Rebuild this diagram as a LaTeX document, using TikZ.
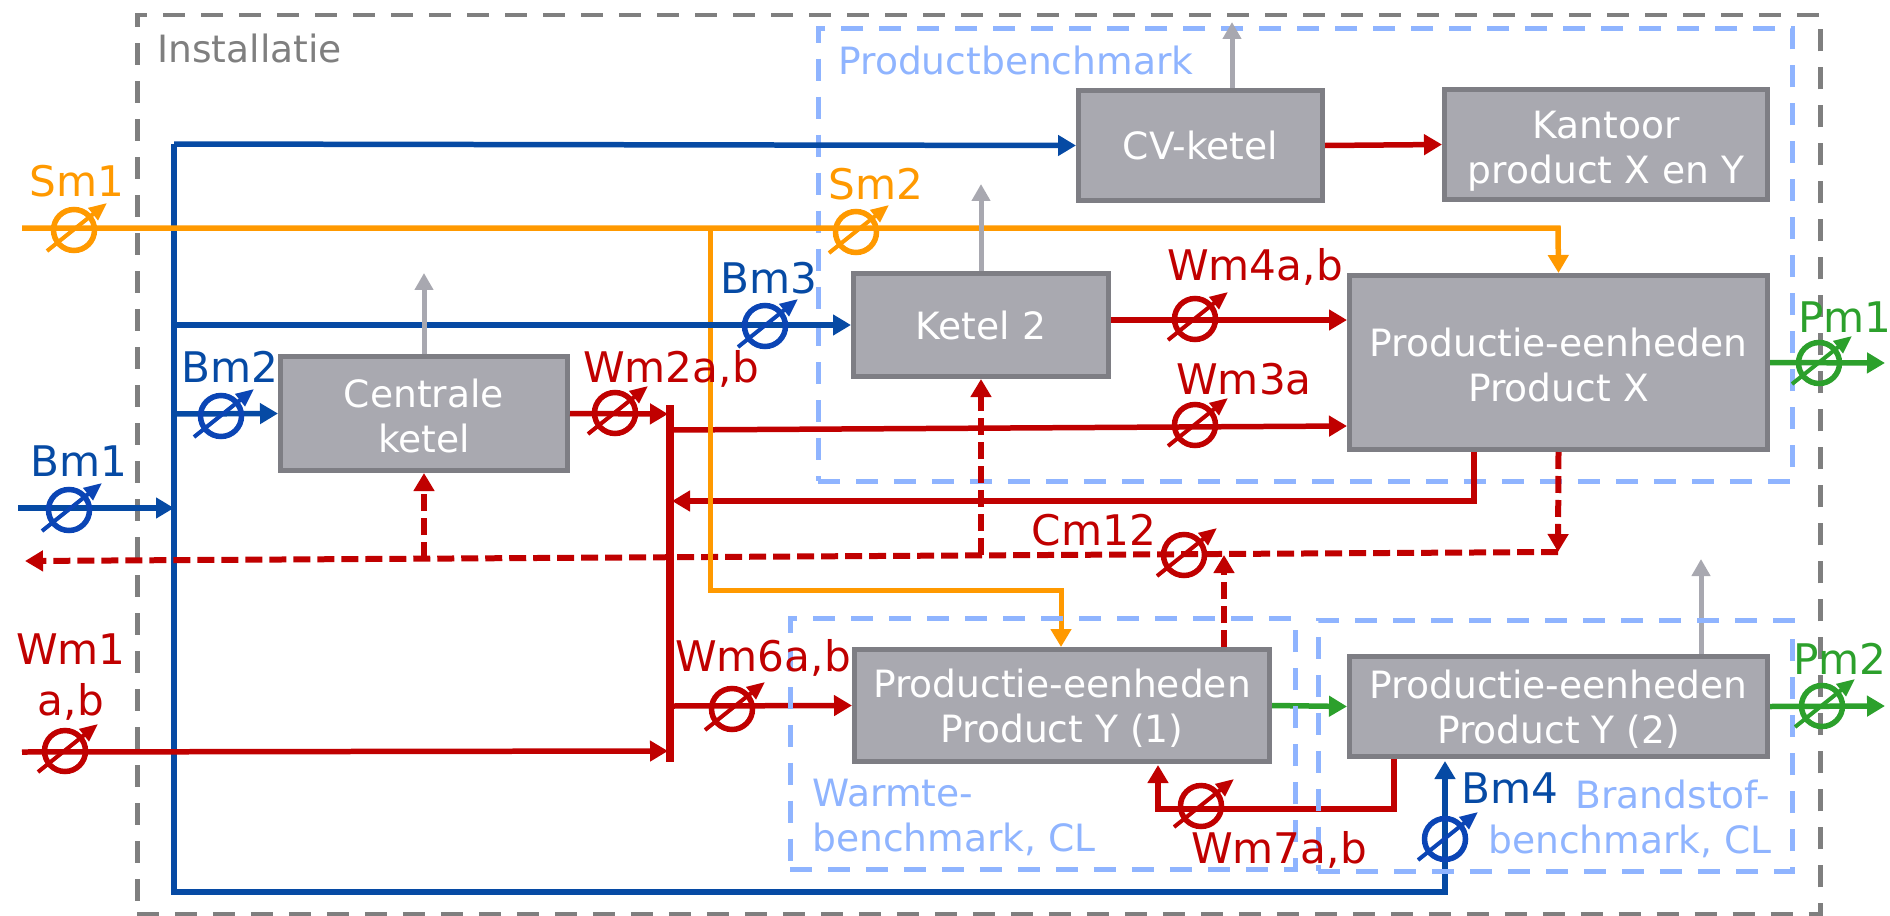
\documentclass[tikz,border=0pt]{standalone}
\usepackage{fontspec}
\setmainfont{DejaVu Sans}
\usepackage{xcolor}
\usepackage{tikz}
\usetikzlibrary{arrows.meta, calc}

\definecolor{blueline}{HTML}{064AA4}
\definecolor{bluemeter}{HTML}{0B45B5}
\definecolor{redline}{HTML}{C00000}
\definecolor{orangeline}{HTML}{FF9900}
\definecolor{greenline}{HTML}{2CA02C}
\definecolor{greyline}{HTML}{A8A8B0}
\definecolor{boxfill}{HTML}{A9A9B0}
\definecolor{boxedge}{HTML}{7E7E84}
\definecolor{regionblue}{HTML}{8FB4FF}
\definecolor{regiongrey}{HTML}{7F7F7F}
\newcommand{\topgap}[1]{\rule{0pt}{#1pt}}

\begin{document}
\begin{tikzpicture}[
    x=0.02cm, y=-0.02cm,
    tip/.style={-{Triangle[length=0.36cm, width=0.4cm]}},
    flow/.style={line width=0.11cm},
    dashflow/.style={line width=0.12cm, dash pattern=on 0.34cm off 0.14cm},
    stack/.style={line width=0.1cm, -{Triangle[length=0.34cm, width=0.36cm]}, draw=greyline},
    unit/.style n args={2}{rectangle, draw=boxedge, fill=boxfill, line width=0.1cm, inner sep=0pt,
        minimum width=#1*0.02cm, minimum height=#2*0.02cm, text=white, align=center,
        font=\fontsize{21.4}{25.6}\selectfont},
    region/.style n args={2}{rectangle, line width=0.1cm, inner sep=0pt,
        minimum width=#1*0.02cm, minimum height=#2*0.02cm, dash pattern=on 0.44cm off 0.32cm},
    meter/.style={circle, line width=0.11cm, inner sep=0pt, minimum size=0.82cm},
    tag/.style={anchor=base, inner sep=0pt, font=\fontsize{24}{26}\selectfont},
    areatag/.style={anchor=base west, inner sep=0pt, font=\fontsize{21.4}{25.6}\selectfont}
]
\useasboundingbox (0,0) rectangle (1890,916);

% outer regions
\node[region={1683}{899}, draw=regiongrey] (installatie) at (978.5,464.5) {};
\node[region={974}{453}, draw=regionblue] (productbm) at (1305,254.5) {};

% units
\node[unit={244}{110}] (cvketel) at (1200.5,145.5) {CV-ketel};
\node[unit={323}{110}] (kantoor) at (1606,144.5) {\topgap{23}Kantoor\\product X en Y};
\node[unit={255}{103}] (ketel2) at (981,325) {Ketel 2};
\node[unit={418}{174}] (prodx) at (1558.5,362.5) {\topgap{19}Productie-eenheden\\Product X};
\node[unit={287}{114}] (centrale) at (424,413.5) {\topgap{19}Centrale\\ketel};
\node[unit={415}{112}] (prody1) at (1062,705.5) {\topgap{19}Productie-eenheden\\Product Y (1)};
\node[unit={418}{100}] (prody2) at (1558.5,706.5) {\topgap{19}Productie-eenheden\\Product Y (2)};

% junctions
\coordinate (blueTop) at (174,144);
\coordinate (blueMid) at (174,325);
\coordinate (blueLow) at (174,414);
\coordinate (blueBm) at (174,508);
\coordinate (blueBot) at (174,892);
\coordinate (blueEnd) at (1445,892);
\coordinate (blueIn) at (18,508);
\coordinate (busTop) at (670,405);
\coordinate (busBot) at (670,762);
\coordinate (sIn) at (22,228);
\coordinate (sBranch) at (710,228);
\coordinate (wIn) at (22,752);
\coordinate (dashEnd) at (1558,552);
\coordinate (dashOut) at (25,561);
\coordinate (dashK2) at (981,555);
\coordinate (dashC) at (424,559);
\coordinate (dashY) at (1224,555);

% blue
\draw[flow, draw=blueline, tip] (blueTop) -- (blueBot) -- (blueEnd) -- (1445,761);

% red
\draw[flow, draw=redline, tip] (wIn) -- (668,751);
\draw[line width=0.15cm, draw=redline] (busTop) -- (busBot);
\draw[flow, draw=redline, tip] (cvketel.east) -- (kantoor.west);
\draw[flow, draw=redline, tip] (ketel2.east |- 0,320) -- (prodx.west |- 0,320);
\draw[flow, draw=redline, tip] (centrale.east) -- (668,414);
\draw[flow, draw=redline, tip] (672,430) -- (prodx.west |- 0,426);
\draw[flow, draw=redline, tip] (1474,452) -- (1474,501) -- (672,501);
\draw[flow, draw=redline, tip] (672,706) -- (prody1.west);
\draw[flow, draw=redline, tip] (1394,759) -- (1394,809) -- (1158,809) -- (1158,765);

% dashed red
\draw[dashflow, draw=redline, tip] (dashEnd) -- (dashOut);
\draw[dashflow, draw=redline, tip] (prodx.south) -- (dashEnd);
\draw[dashflow, draw=redline, tip] (dashK2) -- (ketel2.south);
\draw[dashflow, draw=redline, tip] (dashC) -- (centrale.south);
\draw[dashflow, draw=redline, tip] (1224,647) -- (dashY);

% orange, blue on top of it
\draw[flow, draw=orangeline, tip] (sIn) -- (1558,228) -- (prodx.north);
\draw[line width=0.1cm, draw=orangeline, tip] (sBranch) -- (710,590) -- (1061,590) -- (1061,647);
\draw[flow, draw=blueline, tip] (blueTop) -- (cvketel.west);
\draw[flow, draw=blueline, tip] (blueMid) -- (ketel2.west);
\draw[flow, draw=blueline, tip] (blueLow) -- (centrale.west);
\draw[flow, draw=blueline, tip] (blueIn) -- (blueBm);

% green
\draw[flow, draw=greenline, tip] (prodx.east) -- (1885,363);
\draw[flow, draw=greenline, tip] (prody1.east) -- (prody2.west);
\draw[flow, draw=greenline, tip] (prody2.east) -- (1885,706);

% stacks
\draw[stack] (centrale.north) -- (424,273);
\draw[stack] (ketel2.north) -- (981,184);
\draw[stack] (1232,88) -- (1232,22);
\draw[stack] (1701,654) -- (1701,559);

% benchmark regions over the lines
\node[region={505}{251}, draw=regionblue] (warmtebm) at (1042.5,743.5) {};
\node[region={474}{251}, draw=regionblue] (brandstofbm) at (1555,745.5) {};

% meters
\foreach \mname/\mx/\my/\mcol in {
    Sma/74/230/orangeline, Smb/856/232/orangeline,
    Bma/69/510/bluemeter, Bmb/221/416/bluemeter, Bmc/765/326/bluemeter, Bmd/1445/839/bluemeter,
    Wma/65/751/redline, Wmb/615/413/redline, Wmc/1195/425/redline, Wmd/1195/319/redline,
    Wmf/732/709/redline, Wmg/1201/806/redline, Cma/1184/555/redline,
    Pma/1819/363/greenline, Pmb/1822/706/greenline} {
    \node[meter, draw=\mcol] (\mname) at (\mx,\my) {};
    \draw[line width=0.08cm, draw=\mcol, -{Triangle[length=0.36cm, width=0.3cm]}]
        ($(\mname)+(-27,21)$) -- ($(\mname)+(33,-27)$);
}

% labels
\node[areatag, text=regiongrey] (tInstallatie) at (157,62) {Installatie};
\node[areatag, text=regionblue] (tProduct) at (838,74) {Productbenchmark};
\node[areatag, text=regionblue] (tWarmte) at (812,806) {Warmte-};
\node[areatag, text=regionblue] (tWarmteb) at (812,851) {benchmark, CL};
\node[areatag, text=regionblue, anchor=base east] (tBrand) at (1770,808) {Brandstof-};
\node[areatag, text=regionblue, anchor=base east] (tBrandb) at (1772,853) {benchmark, CL};

\node[tag, text=orangeline] (tSma) at (77,196) {Sm1};
\node[tag, text=orangeline] (tSmb) at (876,199) {Sm2};
\node[tag, text=blueline] (tBmc) at (769,293) {Bm3};
\node[tag, text=blueline] (tBmb) at (230,382) {Bm2};
\node[tag, text=blueline] (tBma) at (79,476) {Bm1};
\node[tag, text=blueline] (tBmd) at (1510,803) {Bm4};
\node[tag, text=redline] (tWmb) at (671,382) {Wm2a,b};
\node[tag, text=redline] (tWmd) at (1255,280) {Wm4a,b};
\node[tag, text=redline] (tWmc) at (1244,394) {Wm3a};
\node[tag, text=redline] (tCma) at (1094,545) {Cm12};
\node[tag, text=redline] (tWma) at (71,664) {Wm1};
\node[tag, text=redline] (tWmab) at (71,715) {a,b};
\node[tag, text=redline] (tWmf) at (763,671) {Wm6a,b};
\node[tag, text=redline] (tWmg) at (1279,863) {Wm7a,b};
\node[tag, text=greenline] (tPma) at (1845,332) {Pm1};
\node[tag, text=greenline] (tPmb) at (1840,674) {Pm2};
\end{tikzpicture}
\end{document}
